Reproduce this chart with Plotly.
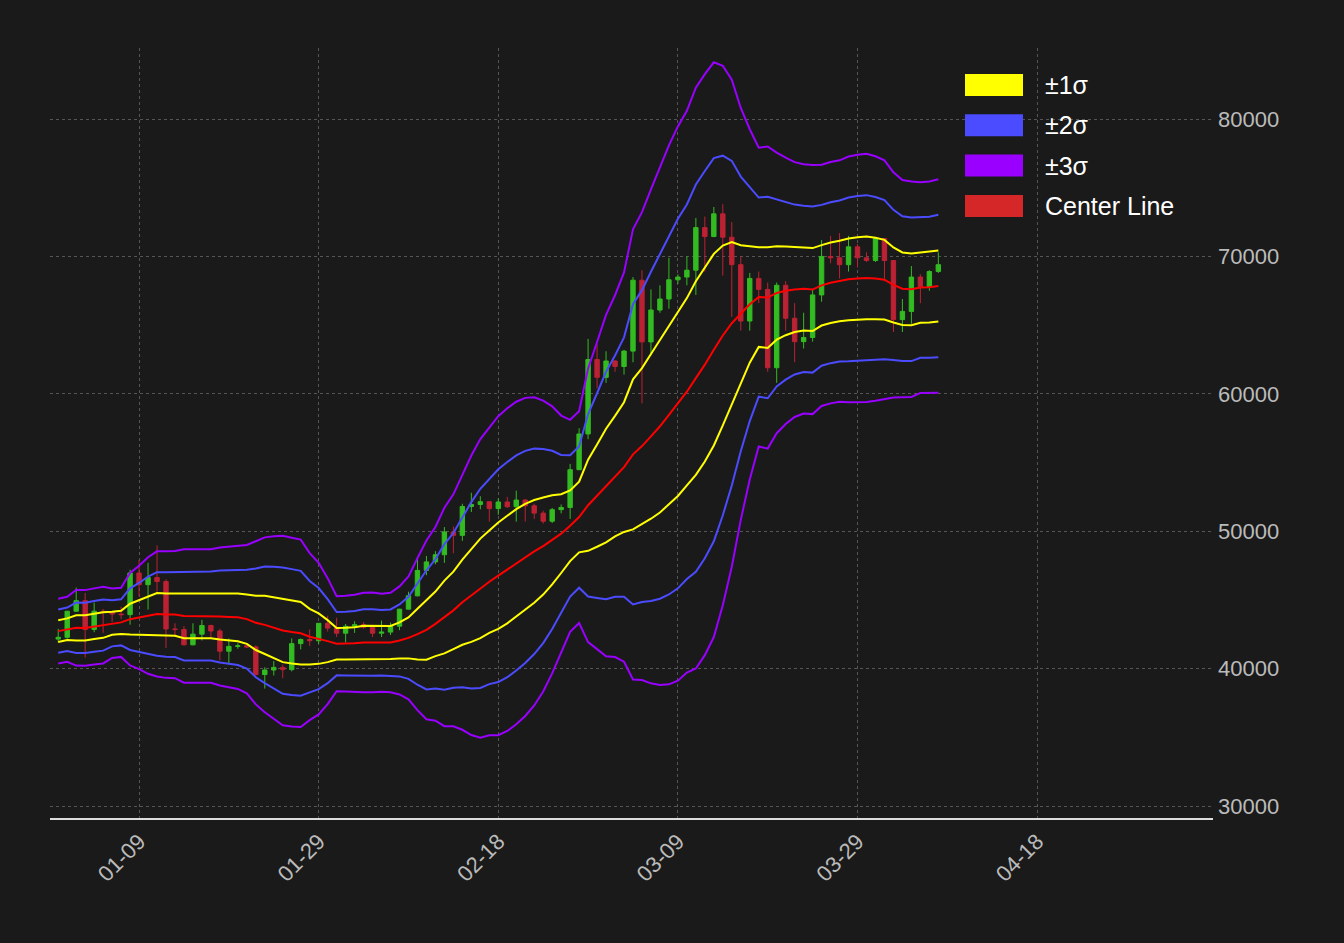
import pandas as pd
import numpy as np
import plotly.graph_objects as go

# Warm-up closes (Dec 11 - Dec 30 2023) used only for the rolling bands
warm_close = [41250, 41450, 42850, 43000, 41950, 42250, 41350, 42650, 42270, 43650,
              43850, 43990, 43720, 43010, 43600, 42520, 43440, 42580, 42070, 42140]

dates = pd.date_range("2023-12-31", "2024-04-07", freq="D")
opens = [42150,42280,44180,44950,42850,44180,44160,43970,43930,46960,46110,46630,46340,42890,42850,41730,42510,43140,42740,41270,
         41620,41660,41580,39570,39900,40090,39930,41820,42120,42030,43300,42950,42580,43080,43200,43010,42580,42660,43090,44330,
         45300,47150,47770,48290,49950,49700,51800,51950,52150,51650,52130,51780,52270,51850,51320,50730,51570,51730,54480,57080,
         62500,61200,62390,61990,63110,68270,63780,66100,66900,68300,68500,69000,72100,71450,73100,71400,69400,65300,68400,67600,
         61900,67900,65500,63800,64100,67200,70000,69900,69400,70700,69900,69700,71300,69700,65400,66000,68500,67800,68900]
highs = [42900,44180,45900,45500,44800,44350,44200,44500,47200,47900,47700,48970,46500,43300,43100,43300,43550,43200,42900,42200,
         41850,41850,41690,40100,40550,40300,42200,42200,42850,43300,43850,43700,43250,43450,43400,43100,43500,43350,44350,45600,
         48150,48200,48550,50300,50350,52000,52800,52550,52200,52400,52500,52950,52350,52000,51500,51700,51950,54900,57500,64000,
         63600,63100,62450,63200,68500,69000,67600,67900,69900,68700,70000,72800,72900,73600,73800,72500,70000,68800,68900,68100,
         68100,68200,66600,65900,67600,71200,71500,71700,71500,70900,70300,71400,71300,69700,66900,69300,68700,69000,70300]
lows = [41900,42180,44150,40800,42650,42600,43400,43600,43200,45250,44300,45600,41500,42400,41700,41700,42050,42200,40600,40300,
        41450,41500,39500,38550,39500,39300,39800,41400,41650,41800,42700,42300,41900,42600,42900,42300,42300,42450,42800,44300,
        45250,46800,47600,47700,48400,49300,51400,51600,50700,51200,51700,50700,50700,50900,50550,50600,51300,50900,54450,56700,
        60400,60800,61600,61400,62300,59300,62800,65900,66200,68000,67900,67200,68900,71400,68600,65600,64600,64600,66600,61600,
        60800,64600,62300,63300,63800,66700,69500,68400,68900,69200,69600,69600,68200,64500,64500,65100,66600,67500,68800]
closes = opens[1:] + [69400]

legend_names = ["±1σ", "±2σ", "±3σ", "Center Line"]
legend_colors = ["#ffff00", "#4b4bff", "#9900ff", "#d62728"]

full = pd.Series(warm_close + closes)
mid = full.rolling(20).mean().iloc[20:].values
sd = full.rolling(20).std().iloc[20:].values

band_colors = {1: "#ffff00", 2: "#4b4bff", 3: "#9900ff"}
fig = go.Figure()
fig.add_trace(go.Candlestick(x=dates, open=opens, high=highs, low=lows, close=closes,
                             increasing=dict(line=dict(color="#33bb22", width=1), fillcolor="#33bb22"),
                             decreasing=dict(line=dict(color="#bb2233", width=1), fillcolor="#bb2233"),
                             showlegend=False, whiskerwidth=0))
for k in (3, 2, 1):
    for sgn in (1, -1):
        fig.add_trace(go.Scatter(x=dates, y=mid + sgn * k * sd, mode="lines",
                                 line=dict(color=band_colors[k], width=2), showlegend=False, hoverinfo="skip"))
fig.add_trace(go.Scatter(x=dates, y=mid, mode="lines", line=dict(color="#ff0000", width=2),
                         showlegend=False))

# manual legend (paper coords; plot area x 50..1213, y 48..818)
W, H = 1163.0, 770.0
for i, (name, c) in enumerate(zip(legend_names, legend_colors)):
    top = 74 + i * 40.3
    fig.add_shape(type="rect", xref="paper", yref="paper",
                  x0=(965 - 50) / W, x1=(1023 - 50) / W,
                  y0=(818 - top - 22) / H, y1=(818 - top) / H,
                  fillcolor=c, line=dict(width=0))
    fig.add_annotation(xref="paper", yref="paper", x=(1043 - 50) / W, y=(818 - top - 11) / H,
                       text=name, showarrow=False, xanchor="left", yanchor="middle",
                       font=dict(color="#ffffff", size=25))

fig.update_layout(
    width=1344, height=943, paper_bgcolor="#1a1a1a", plot_bgcolor="#1a1a1a",
    margin=dict(l=50, r=131, t=48, b=125), showlegend=False,
    font=dict(family="Arial, Liberation Sans", color="#bbbbbb", size=22),
    xaxis=dict(rangeslider=dict(visible=False), type="date",
               range=["2023-12-30 02:00", "2024-05-07 14:00"],
               tick0="2024-01-09", dtick=20 * 86400000, tickformat="%m-%d", tickangle=-45,
               showgrid=True, gridcolor="#555555", griddash="dot", gridwidth=1,
               showline=True, linecolor="#dddddd", linewidth=2, zeroline=False,
               tickfont=dict(size=22, color="#bbbbbb")),
    yaxis=dict(side="right", range=[29130, 85170], tickvals=[30000, 40000, 50000, 60000, 70000, 80000],
               tickformat="d", ticklabelstandoff=4,
               showgrid=True, gridcolor="#555555", griddash="dot", gridwidth=1, zeroline=False,
               tickfont=dict(size=22, color="#bbbbbb")),
)
fig.write_html("out.html", config={"displayModeBar": False},
               post_script="document.body.style.margin='0';document.body.style.background='#1a1a1a';")
